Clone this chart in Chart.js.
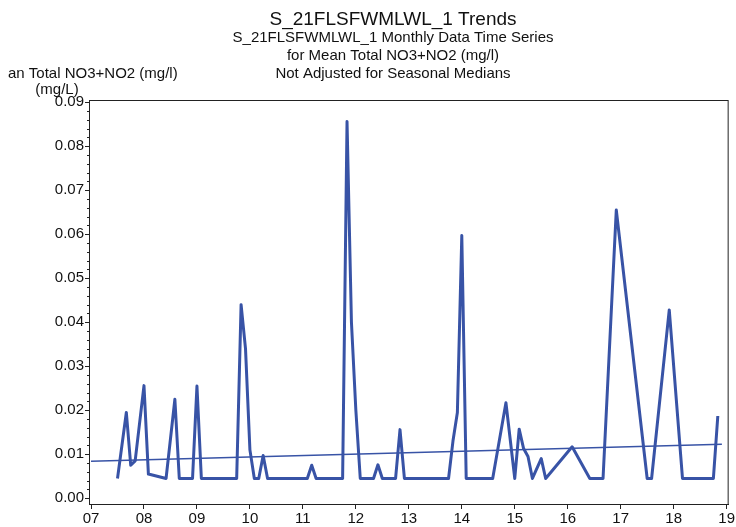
<!DOCTYPE html>
<html>
<head>
<meta charset="utf-8">
<script src="https://cdn.jsdelivr.net/npm/chart.js@4/dist/chart.umd.min.js"></script>
<style>
  html, body { margin: 0; padding: 0; background: #fff; }
  #wrap { width: 736px; height: 527px; }
</style>
</head>
<body>
<div id="wrap"><canvas id="chart" width="736" height="527"></canvas></div>
<script>
// monthly samples (year-month) and mean total NO3+NO2 (mg/L)
const sampleMonths = [
    '2007-07', '2007-09', '2007-10', '2007-11', '2008-01', '2008-02', '2008-06', '2008-08',
    '2008-09', '2008-12', '2009-01', '2009-02', '2009-10', '2009-11', '2009-12', '2010-01',
    '2010-02', '2010-03', '2010-04', '2010-05', '2011-02', '2011-03', '2011-04', '2011-10',
    '2011-11', '2011-12', '2012-01', '2012-02', '2012-05', '2012-06', '2012-07', '2012-10',
    '2012-11', '2012-12', '2013-10', '2013-11', '2013-12', '2014-01', '2014-02', '2014-08',
    '2014-11', '2015-01', '2015-02', '2015-03', '2015-04', '2015-05', '2015-07', '2015-08',
    '2016-02', '2016-06', '2016-09', '2016-12', '2017-07', '2017-08', '2017-12', '2018-03',
    '2018-10', '2018-11'
];
const sampleValues = [
    0.0045, 0.0195, 0.0075, 0.0085, 0.0256, 0.0055, 0.0045, 0.0225,
    0.0045, 0.0045, 0.0255, 0.0045, 0.0045, 0.0440, 0.0340, 0.0110,
    0.0045, 0.0045, 0.0097, 0.0045, 0.0045, 0.0075, 0.0045, 0.0045,
    0.0856, 0.0400, 0.0200, 0.0045, 0.0045, 0.0076, 0.0045, 0.0045,
    0.0156, 0.0045, 0.0045, 0.0130, 0.0195, 0.0597, 0.0045, 0.0045,
    0.0217, 0.0045, 0.0157, 0.0113, 0.0095, 0.0045, 0.0090, 0.0045,
    0.0117, 0.0045, 0.0045, 0.0655, 0.0045, 0.0045, 0.0428, 0.0045,
    0.0045, 0.0187
];

// trend line end points (decimal year, value)
const trendYears = [2007.0, 2018.91];
const trendValues = [0.0084, 0.0123];

const yTickValues = [0, 0.01, 0.02, 0.03, 0.04, 0.05, 0.06, 0.07, 0.08, 0.09];
const xTickYears = [2007, 2008, 2009, 2010, 2011, 2012, 2013, 2014, 2015, 2016, 2017, 2018, 2019];
const xTickLabels = ['07', '08', '09', '10', '11', '12', '13', '14', '15', '16', '17', '18', '19'];

const titleText = 'S_21FLSFWMLWL_1 Trends';
const subtitleLines = [
    'S_21FLSFWMLWL_1 Monthly Data Time Series',
    'for Mean Total NO3+NO2 (mg/l)',
    'Not Adjusted for Seasonal Medians'
];
const yLabelLines = ['an Total NO3+NO2 (mg/l)', '(mg/L)'];

const fontFamily = '"Liberation Sans", Arial, sans-serif';
const lineBlue = '#3853a6';
const axisColor = '#222';

const toDecimalYear = (ym) => {
    const [y, m] = ym.split('-').map(Number);
    return y + (m - 1) / 12;
};

const seriesPoints = sampleMonths.map((ym, i) => ({ x: toDecimalYear(ym), y: sampleValues[i] }));
const trendPoints = trendYears.map((x, i) => ({ x: x, y: trendValues[i] }));

// titles, axis caption, frame and minor ticks
const decorations = {
    id: 'decorations',
    afterDraw(chart) {
        const ctx = chart.ctx;
        const area = chart.chartArea;
        const yScale = chart.scales.y;
        ctx.save();

        ctx.strokeStyle = axisColor;
        ctx.lineWidth = 1;
        ctx.strokeRect(area.left + 0.5, area.top + 0.5, area.right - area.left - 1, area.bottom - area.top);

        ctx.beginPath();
        for (let i = 1; i < 45; i++) {
            if (i % 5 === 0) {
                continue;
            }
            const py = Math.round(yScale.getPixelForValue(i * 0.002)) + 0.5;
            ctx.moveTo(area.left - 2, py);
            ctx.lineTo(area.left, py);
        }
        ctx.stroke();

        ctx.fillStyle = '#111';
        ctx.textAlign = 'center';
        ctx.textBaseline = 'alphabetic';
        ctx.font = '19px ' + fontFamily;
        ctx.fillText(titleText, 393, 25);
        ctx.font = '15px ' + fontFamily;
        subtitleLines.forEach((line, i) => ctx.fillText(line, 393, 42 + i * 18));

        ctx.textAlign = 'left';
        ctx.fillText(yLabelLines[0], 8, 78);
        ctx.textAlign = 'center';
        ctx.fillText(yLabelLines[1], 57, 94);
        ctx.restore();
    }
};

new Chart(document.getElementById('chart'), {
    type: 'scatter',
    data: {
        datasets: [
            {
                data: seriesPoints,
                showLine: true,
                borderColor: lineBlue,
                borderWidth: 3,
                borderJoinStyle: 'round',
                pointRadius: 0,
                tension: 0
            },
            {
                data: trendPoints,
                showLine: true,
                borderColor: lineBlue,
                borderWidth: 1.5,
                pointRadius: 0
            }
        ]
    },
    options: {
        responsive: false,
        animation: false,
        layout: { padding: { top: 100, right: 7, left: 0, bottom: 0 } },
        plugins: {
            legend: { display: false },
            tooltip: { enabled: false }
        },
        scales: {
            x: {
                type: 'linear',
                min: 2006.962,
                max: 2019.038,
                afterBuildTicks: (scale) => { scale.ticks = xTickYears.map(v => ({ value: v })); },
                afterFit: (scale) => { scale.height = 23; },
                ticks: {
                    autoSkip: false,
                    maxRotation: 0,
                    padding: 1,
                    color: '#111',
                    font: { family: fontFamily, size: 15 },
                    callback: (v) => xTickLabels[xTickYears.indexOf(v)]
                },
                grid: { drawOnChartArea: false, tickLength: 5, color: axisColor },
                border: { color: axisColor }
            },
            y: {
                min: -0.0013,
                max: 0.0905,
                afterBuildTicks: (scale) => { scale.ticks = yTickValues.map(v => ({ value: v })); },
                afterFit: (scale) => { scale.width = 89; },
                ticks: {
                    autoSkip: false,
                    padding: 1,
                    color: '#111',
                    font: { family: fontFamily, size: 15 },
                    callback: (v) => v.toFixed(2)
                },
                grid: { drawOnChartArea: false, tickLength: 4, color: axisColor },
                border: { color: axisColor }
            }
        }
    },
    plugins: [decorations]
});
</script>
</body>
</html>
